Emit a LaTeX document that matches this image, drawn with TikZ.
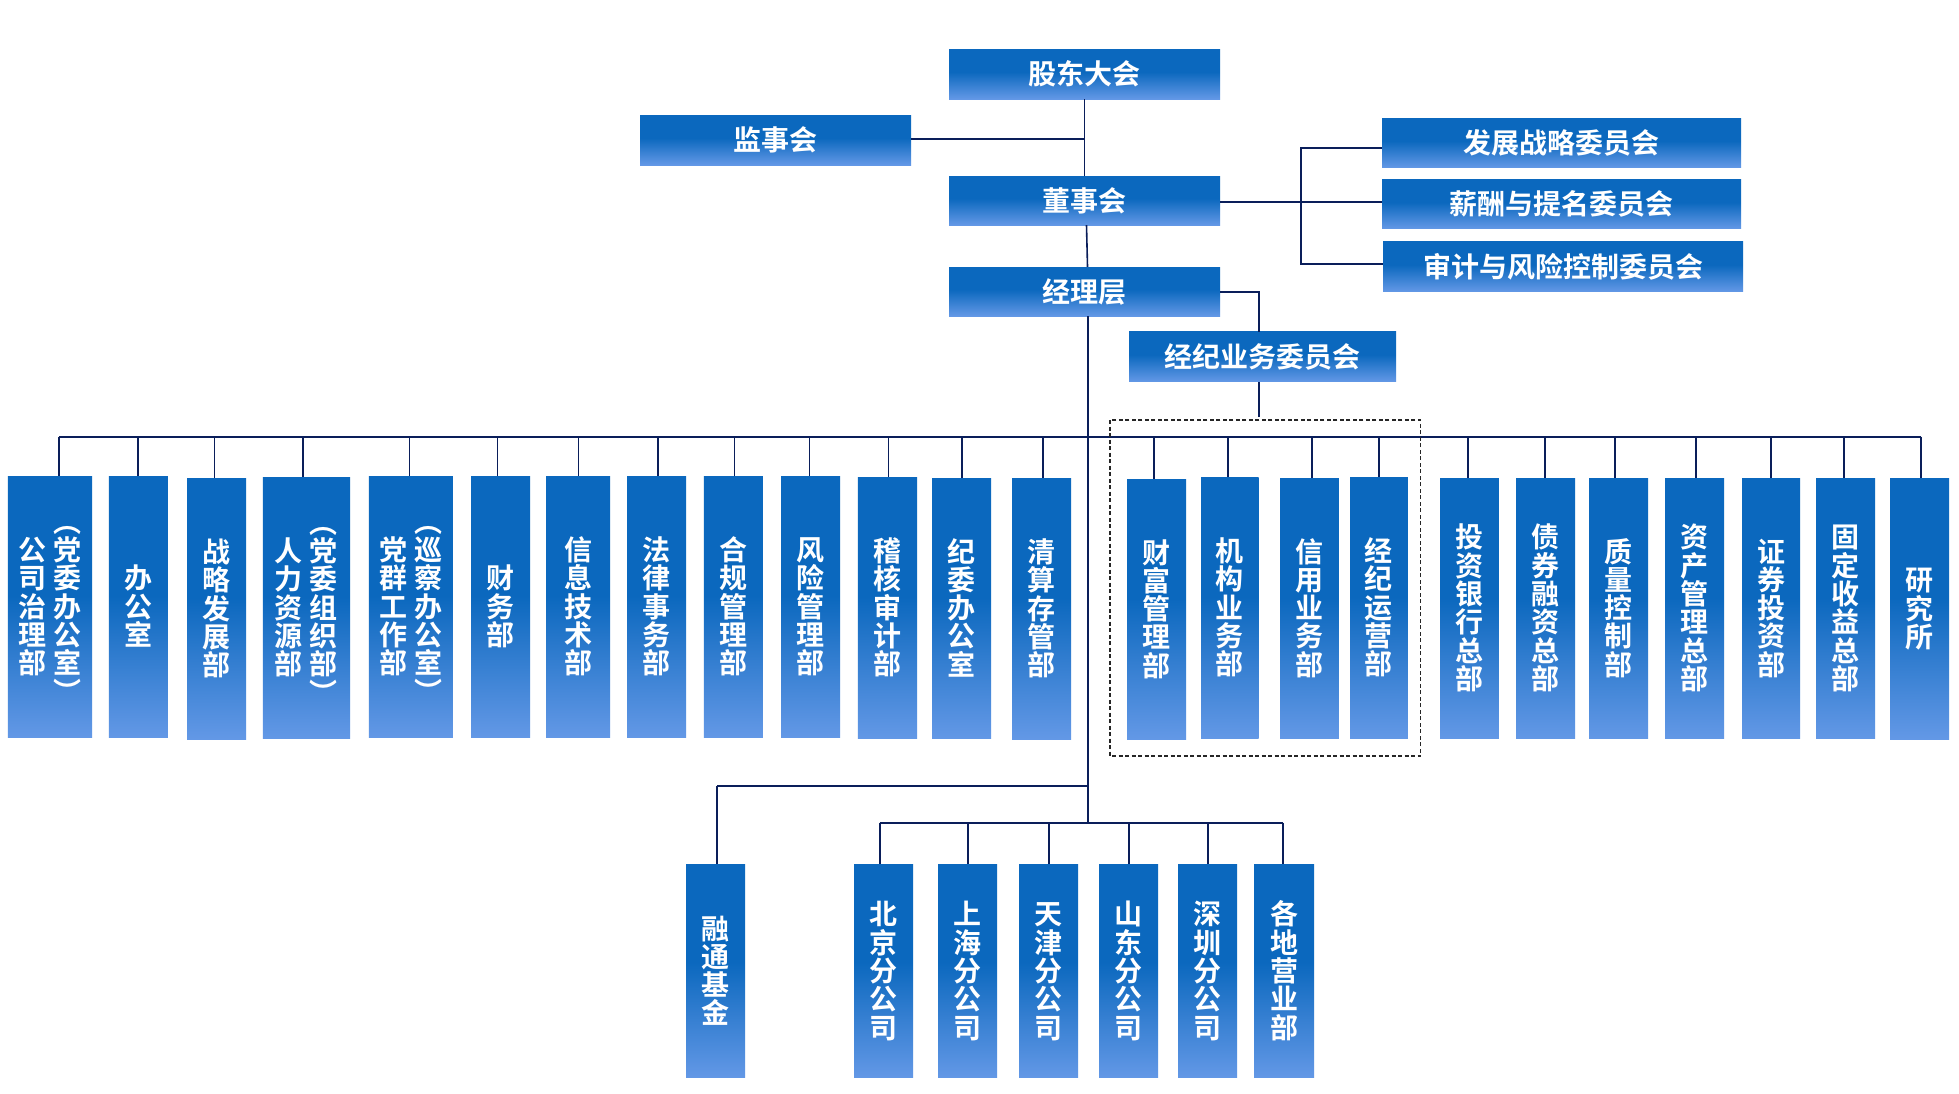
\documentclass[tikz,border=0pt]{standalone}
\usepackage{fontspec}
\newfontfamily\cjk{Noto Sans CJK SC}[BoldFont={Noto Sans CJK SC Bold}]
\definecolor{db}{RGB}{11,104,190}
\definecolor{lb}{RGB}{99,152,230}
\definecolor{ln}{RGB}{10,30,90}
\pgfdeclareverticalshading{boxsh}{100bp}{color(0bp)=(lb); color(25bp)=(lb); color(52bp)=(db); color(100bp)=(db)}
\tikzset{
  boxbase/.style={shading=boxsh, draw=none, inner sep=0pt, text=white,
    font=\cjk\bfseries\fontsize{28}{28.3}\selectfont},
  conn/.style={draw=ln, line width=1.6pt},
  grp/.style={draw=black!85, line width=1.3pt, dash pattern=on 4pt off 2.5pt},
}
\newcommand\vcol[1]{{\setbox\strutbox\hbox{\vrule height 24.8pt depth 3.5pt width 0pt}\begin{tabular}{@{}c@{}}#1\end{tabular}}}
\begin{document}
\begin{tikzpicture}[x=1pt,y=-1pt]
\useasboundingbox (0,0) rectangle (1959,1093);
\fill[white] (0,0) rectangle (1959,1093);

% ---- top part ----
\node[boxbase, minimum width=271pt, minimum height=50pt] (gd) at (1084.5,74) {股东大会};
\node[boxbase, minimum width=271pt, minimum height=50pt] (js) at (775.5,140) {监事会};
\node[boxbase, minimum width=271pt, minimum height=49pt] (ds) at (1084.5,200.5) {董事会};
\node[boxbase, minimum width=271pt, minimum height=49pt] (jl) at (1084.5,291.5) {经理层};
\node[boxbase, minimum width=359pt, minimum height=49.4pt] (fz) at (1561.5,143) {发展战略委员会};
\node[boxbase, minimum width=359pt, minimum height=48.7pt] (xc) at (1561.5,204.3) {薪酬与提名委员会};
\node[boxbase, minimum width=360pt, minimum height=49.7pt] (sj) at (1563,266.8) {审计与风险控制委员会};
\node[boxbase, minimum width=267pt, minimum height=49.7pt] (jw) at (1262.5,356.8) {经纪业务委员会};

\coordinate (c1) at (1084.7,138.7);
\draw[conn] (gd.south) -- (ds.north);
\draw[conn] (js.east |- c1) -- (c1);
\draw[conn] ([xshift=2pt]ds.south) -- ([xshift=3pt]jl.north);
\coordinate (c2) at (1301,201.7);
\draw[conn] (ds.east |- c2) -- (xc.west |- c2);
\coordinate (c3) at (1301,148);
\coordinate (c4) at (1301,263.7);
\draw[conn] (fz.west |- c3) -- (c3) -- (c4) -- (sj.west |- c4);
\coordinate (c5) at (1259,291.7);
\draw[conn] (jl.east |- c5) -- (c5) -- (c5 |- jw.north);
\coordinate (c6) at (1259,416.7);
\draw[conn] (c5 |- jw.south) -- (c6);
\coordinate (t1) at (1088,436.7);
\coordinate (t2) at (1088,785.7);
\coordinate (t3) at (1088,822.7);
\draw[conn] (t1 |- jl.south) -- (t3);

% ---- department row ----
\foreach \n/\xa/\xb/\ya/\yb/\dx/\txt in {
 b1/7.9/92.1/476/737/58.9/{\vcol{公\\司\\治\\理\\部}\hspace{7pt}\vcol{︵\\党\\委\\办\\公\\室\\︶}},
 b2/108.9/167.9/476/737/137.9/{\vcol{办\\公\\室}},
 b3/187.1/246.1/478/739/214.6/{\vcol{战\\略\\发\\展\\部}},
 b4/262.9/350/477/738/302.9/{\vcol{人\\力\\资\\源\\部}\hspace{7pt}\vcol{︵\\党\\委\\组\\织\\部\\︶}},
 b5/368.9/452.9/476/737/409.6/{\vcol{党\\群\\工\\作\\部}\hspace{7pt}\vcol{︵\\巡\\察\\办\\公\\室\\︶}},
 b6/471.1/530/476/737/497.5/{\vcol{财\\务\\部}},
 b7/546.1/610/476/737/578.6/{\vcol{信\\息\\技\\术\\部}},
 b8/627.1/686.1/476/737/657.9/{\vcol{法\\律\\事\\务\\部}},
 b9/703.9/762.9/476/737/734.6/{\vcol{合\\规\\管\\理\\部}},
 b10/781.1/840/476/737/809.6/{\vcol{风\\险\\管\\理\\部}},
 b11/857.9/917.1/477/738/888.6/{\vcol{稽\\核\\审\\计\\部}},
 b12/932.1/991.1/478/738/961.8/{\vcol{纪\\委\\办\\公\\室}},
 b13/1012.1/1071.1/478/739/1042.9/{\vcol{清\\算\\存\\管\\部}},
 b14/1127.1/1186.1/479/739/1153.9/{\vcol{财\\富\\管\\理\\部}},
 b15/1201.1/1258.6/477/738/1227.9/{\vcol{机\\构\\业\\务\\部}},
 b16/1280/1338.9/478/738/1312.1/{\vcol{信\\用\\业\\务\\部}},
 b17/1350/1407.9/477/738/1378.9/{\vcol{经\\纪\\运\\营\\部}},
 b18/1440/1498.9/478/738/1467.9/{\vcol{投\\资\\银\\行\\总\\部}},
 b19/1516/1575/478/738/1544.9/{\vcol{债\\券\\融\\资\\总\\部}},
 b20/1589/1648/478/738/1615/{\vcol{质\\量\\控\\制\\部}},
 b21/1665/1724/478/738/1695.7/{\vcol{资\\产\\管\\理\\总\\部}},
 b22/1742/1800/478/738/1770.7/{\vcol{证\\券\\投\\资\\部}},
 b23/1816/1875/478/738/1843.7/{\vcol{固\\定\\收\\益\\总\\部}},
 b24/1890/1949/478/739/1921/{\vcol{研\\究\\所}}%
}{
  \pgfmathsetmacro\bw{\xb-\xa}\pgfmathsetmacro\bh{\yb-\ya}
  \pgfmathsetmacro\cx{(\xa+\xb)/2}\pgfmathsetmacro\cy{(\ya+\yb)/2}
  \node[boxbase, minimum width=\bw pt, minimum height=\bh pt] (\n) at (\cx,\cy) {\txt};
  \coordinate (d\n) at (\dx,436.7);
  \draw[conn] (d\n) -- (d\n |- \n.north);
}
\draw[conn] (db1) -- (db24);

\draw[grp] (1110,420) rectangle (1420.7,756);

% ---- bottom part ----
\foreach \n/\xa/\xb/\dx/\yl/\txt in {
 rt/686/745/716.7/785.7/{\vcol{融\\通\\基\\金}},
 bj/854/913/879.7/822.7/{\vcol{北\\京\\分\\公\\司}},
 sh/938/997/967.7/822.7/{\vcol{上\\海\\分\\公\\司}},
 tj/1019/1078/1049/822.7/{\vcol{天\\津\\分\\公\\司}},
 sd/1099/1158/1128.7/822.7/{\vcol{山\\东\\分\\公\\司}},
 sz/1178/1237/1207.7/822.7/{\vcol{深\\圳\\分\\公\\司}},
 gy/1254/1314/1282.7/822.7/{\vcol{各\\地\\营\\业\\部}}%
}{
  \pgfmathsetmacro\bw{\xb-\xa}
  \pgfmathsetmacro\cx{(\xa+\xb)/2}
  \node[boxbase, minimum width=\bw pt, minimum height=213.7pt] (\n) at (\cx,970.85) {\txt};
  \coordinate (d\n) at (\dx,\yl);
  \draw[conn] (d\n) -- (d\n |- \n.north);
}
\draw[conn] (t2) -- (drt);
\draw[conn] (dbj) -- (dgy);
\end{tikzpicture}
\end{document}
